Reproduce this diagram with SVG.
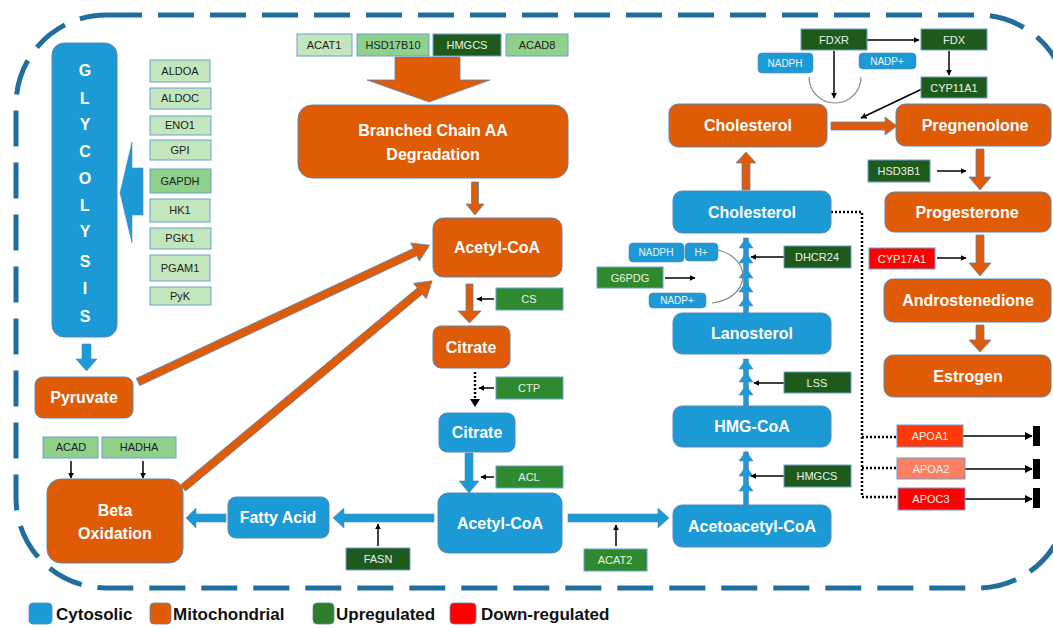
<svg xmlns="http://www.w3.org/2000/svg" width="1053" height="628" viewBox="0 0 1053 628">
<defs>
<style>
.or{fill:#df5b05;stroke:#5b86b8;stroke-width:1}
.bl{fill:#1b9ad6;stroke:#5b86b8;stroke-width:1}
.oa{fill:#df5b05;stroke:#5b86b8;stroke-width:0.8}
.ba{fill:#1b9ad6;stroke:#5b86b8;stroke-width:0.6}
.big{font-family:"Liberation Sans",Arial,sans-serif;font-weight:bold;font-size:16px;fill:#fff;text-anchor:middle}
.gl{font-family:"Liberation Sans",Arial,sans-serif;font-weight:bold;font-size:16px;fill:#fff;text-anchor:middle}
.g1{fill:#c3e6bc;stroke:#6a9fd0;stroke-width:1}
.g2{fill:#8fd08a;stroke:#6a9fd0;stroke-width:1}
.g3{fill:#2f8a2f;stroke:#6a9fd0;stroke-width:1}
.g4{fill:#1f5a1d;stroke:#6a9fd0;stroke-width:1}
.r1{fill:#ff3a0a;stroke:#6a9fd0;stroke-width:1}
.r2{fill:#ff8060;stroke:#6a9fd0;stroke-width:1}
.r3{fill:#ff0000;stroke:#6a9fd0;stroke-width:1}
.sm{fill:#1b9ad6;stroke:#5b86b8;stroke-width:0.6}
.td{font-family:"Liberation Sans",Arial,sans-serif;font-size:11px;fill:#222;text-anchor:middle}
.tw{font-family:"Liberation Sans",Arial,sans-serif;font-size:11px;fill:#e8f2e8;text-anchor:middle}
.ts{font-family:"Liberation Sans",Arial,sans-serif;font-size:10px;fill:#f0f6fb;text-anchor:middle}
.lg{font-family:"Liberation Sans",Arial,sans-serif;font-weight:bold;font-size:17px;fill:#111}
.ln{stroke:#000;stroke-width:1.5;fill:none}
.dot{stroke:#000;stroke-width:2.5;fill:none;stroke-dasharray:2 2}
.arc{stroke:#888;stroke-width:1.2;fill:none}
</style>
<marker id="ah" viewBox="0 0 10 10" refX="9" refY="5" markerWidth="6" markerHeight="6" markerUnits="userSpaceOnUse" orient="auto"><path d="M0,0 L10,5 L0,10 Z" fill="#000"/></marker>
<marker id="ah2" viewBox="0 0 10 10" refX="9" refY="5" markerWidth="8" markerHeight="8" markerUnits="userSpaceOnUse" orient="auto"><path d="M0,0 L10,5 L0,10 Z" fill="#000"/></marker>
</defs>

<rect x="0" y="0" width="1053" height="628" fill="#fff"/>

<!-- cell border -->
<rect x="16" y="15" width="1052" height="573" rx="90" ry="90" fill="none" stroke="#1f6e9e" stroke-width="5" stroke-dasharray="36 16"/>

<!-- connectors -->
<g id="connectors">
  <polygon class="ba" points="143,168 132,168 132,142 120,193 132,243 132,215 143,215"/>
  <polygon class="ba" points="82,344 91,344 91,359 97,359 86.5,371 76,359 82,359"/>
  <polygon class="oa" transform="translate(138,382) rotate(-25.13)" points="0,-4 306,-4 306,-10 322,0 306,10 306,4 0,4"/>
  <polygon class="oa" transform="translate(183,488) rotate(-39.74)" points="0,-4 308,-4 308,-10 324,0 308,10 308,4 0,4"/>
  <polygon class="oa" points="395,57 460,57 460,80 490,80 429,102 367,80 395,80"/>
  <polygon class="oa" points="471.5,182 478.5,182 478.5,204 484,204 475,215 466,204 471.5,204"/>
  <polygon class="oa" points="466,284 473,284 473,311 481,311 469.5,323 458,311 466,311"/>
  <line class="dot" x1="475" y1="372" x2="475" y2="400" stroke-width="2"/>
  <path d="M470,399 L480,399 L475,407 Z" fill="#000"/>
  <polygon class="ba" points="465,453 473,453 473,481 479,481 469,493 459,481 465,481"/>
  <polygon class="ba" points="434,514 344,514 344,508 333,518 344,528 344,522 434,522"/>
  <polygon class="ba" points="226,514 196,514 196,508 186,518 196,528 196,522 226,522"/>
  <polygon class="ba" points="568,514 658,514 658,508 669,518 658,528 658,522 568,522"/>

  <rect class="ba" x="743.5" y="452" width="5" height="53"/>
  <polygon class="ba" points="739,461 746,451 753,461"/>
  <polygon class="ba" points="739,476 746,466 753,476"/>
  <polygon class="ba" points="739,491 746,481 753,491"/>
  <rect class="ba" x="743.5" y="359" width="5" height="47"/>
  <polygon class="ba" points="739,369 746,359 753,369"/>
  <polygon class="ba" points="739,382 746,372 753,382"/>
  <polygon class="ba" points="739,395 746,385 753,395"/>
  <rect class="ba" x="743.5" y="238" width="5" height="75"/>
  <polygon class="ba" points="739,248 746,238 753,248"/>
  <polygon class="ba" points="739,263 746,253 753,263"/>
  <polygon class="ba" points="739,278 746,268 753,278"/>
  <polygon class="ba" points="739,292 746,282 753,292"/>
  <polygon class="ba" points="739,306 746,296 753,306"/>

  <polygon class="oa" points="742,190 750,190 750,163 756,163 746,152 736,163 742,163"/>
  <polygon class="oa" points="831,122 885,122 885,117 897,126 885,135 885,130 831,130"/>
  <polygon class="oa" points="976,149 984,149 984,177 991,177 980,190 969,177 976,177"/>
  <polygon class="oa" points="976,235 984,235 984,263 991,263 980,276 969,263 976,263"/>
  <polygon class="oa" points="976,325 984,325 984,340 991,340 980,352 969,340 976,340"/>

  <line class="ln" x1="71" y1="461" x2="71" y2="478" marker-end="url(#ah)"/>
  <line class="ln" x1="143" y1="461" x2="143" y2="478" marker-end="url(#ah)"/>
  <line class="ln" x1="494" y1="299" x2="477" y2="299" marker-end="url(#ah)"/>
  <line class="ln" x1="494" y1="388" x2="479" y2="388" marker-end="url(#ah)"/>
  <line class="ln" x1="494" y1="477" x2="481" y2="477" marker-end="url(#ah)"/>
  <line class="ln" x1="378" y1="546" x2="378" y2="524" marker-end="url(#ah)"/>
  <line class="ln" x1="616" y1="546" x2="616" y2="525" marker-end="url(#ah)"/>
  <line class="ln" x1="784" y1="476" x2="751" y2="476" marker-end="url(#ah)"/>
  <line class="ln" x1="784" y1="383" x2="754" y2="383" marker-end="url(#ah)"/>
  <line class="ln" x1="784" y1="257" x2="751" y2="257" marker-end="url(#ah)"/>
  <line class="ln" x1="665" y1="278" x2="695" y2="278" stroke-width="1" stroke="#444" marker-end="url(#ah)"/>
  <line class="ln" x1="937" y1="171" x2="966" y2="171" stroke-width="1" stroke="#444" marker-end="url(#ah)"/>
  <line class="ln" x1="937" y1="258" x2="966" y2="258" stroke-width="1" stroke="#444" marker-end="url(#ah)"/>
  <line class="ln" x1="867" y1="40" x2="919" y2="40" stroke-width="1" stroke="#444" marker-end="url(#ah)"/>
  <line class="ln" x1="949" y1="51" x2="949" y2="75" marker-end="url(#ah)"/>
  <line class="ln" x1="834" y1="51" x2="834" y2="98" marker-end="url(#ah)"/>
  <line class="ln" x1="922" y1="89" x2="861" y2="118" marker-end="url(#ah)"/>
  <path class="arc" d="M809,77 A26,26 0 0 0 861,77"/>
  <path class="arc" d="M718,250 C752,258 752,298 712,303"/>

  <polyline class="dot" points="831,212 862,212 862,497"/>
  <line class="dot" x1="862" y1="437" x2="897" y2="437"/>
  <line class="dot" x1="862" y1="468" x2="897" y2="468"/>
  <line class="dot" x1="862" y1="497" x2="898" y2="497"/>
  <line class="ln" x1="963" y1="436" x2="1032" y2="436" stroke-width="2" marker-end="url(#ah2)"/>
  <line class="ln" x1="965" y1="469" x2="1032" y2="469" stroke-width="2" marker-end="url(#ah2)"/>
  <line class="ln" x1="965" y1="499" x2="1032" y2="499" stroke-width="2" marker-end="url(#ah2)"/>
  <rect x="1033" y="426" width="7" height="20" fill="#000"/>
  <rect x="1033" y="459" width="7" height="20" fill="#000"/>
  <rect x="1033" y="488" width="7" height="20" fill="#000"/>
</g>

<g id="glycolysis">
  <rect class="bl" x="52" y="43" width="65" height="294" rx="12"/>
  <text class="gl" x="85" y="76">G</text>
  <text class="gl" x="85" y="104">L</text>
  <text class="gl" x="85" y="130">Y</text>
  <text class="gl" x="85" y="157">C</text>
  <text class="gl" x="85" y="184">O</text>
  <text class="gl" x="85" y="211">L</text>
  <text class="gl" x="85" y="237">Y</text>
  <text class="gl" x="85" y="267">S</text>
  <text class="gl" x="85" y="294">I</text>
  <text class="gl" x="85" y="322">S</text>
</g>
<g id="pyruvate"><rect class="or" x="35" y="377" width="98" height="41" rx="8"/><text class="big" x="84" y="403">Pyruvate</text></g>
<g id="beta-oxidation"><rect class="or" x="47" y="479" width="136" height="84" rx="14"/><text class="big" x="115" y="516">Beta</text><text class="big" x="115" y="539">Oxidation</text></g>
<g id="branched-chain"><rect class="or" x="298" y="105" width="270" height="73" rx="14"/><text class="big" x="433" y="136">Branched Chain AA</text><text class="big" x="433" y="160">Degradation</text></g>
<g id="acetyl-coa-mito"><rect class="or" x="433" y="218" width="129" height="59" rx="10"/><text class="big" x="497" y="253">Acetyl-CoA</text></g>
<g id="citrate-mito"><rect class="or" x="433" y="326" width="77" height="42" rx="8"/><text class="big" x="471" y="353">Citrate</text></g>
<g id="citrate-cyto"><rect class="bl" x="439" y="413" width="76" height="39" rx="8"/><text class="big" x="477" y="438">Citrate</text></g>
<g id="acetyl-coa-cyto"><rect class="bl" x="438" y="493" width="124" height="60" rx="10"/><text class="big" x="500" y="529">Acetyl-CoA</text></g>
<g id="fatty-acid"><rect class="bl" x="228" y="497" width="101" height="41" rx="8"/><text class="big" x="278" y="523">Fatty Acid</text></g>
<g id="acetoacetyl-coa"><rect class="bl" x="673" y="505" width="158" height="42" rx="9"/><text class="big" x="752" y="532">Acetoacetyl-CoA</text></g>
<g id="hmg-coa"><rect class="bl" x="673" y="406" width="158" height="41" rx="9"/><text class="big" x="752" y="432">HMG-CoA</text></g>
<g id="lanosterol"><rect class="bl" x="673" y="313" width="158" height="41" rx="9"/><text class="big" x="752" y="339">Lanosterol</text></g>
<g id="cholesterol-cyto"><rect class="bl" x="673" y="191" width="158" height="42" rx="9"/><text class="big" x="752" y="218">Cholesterol</text></g>
<g id="cholesterol-mito"><rect class="or" x="669" y="104" width="158" height="43" rx="9"/><text class="big" x="748" y="131">Cholesterol</text></g>
<g id="pregnenolone"><rect class="or" x="896" y="104" width="155" height="42" rx="9"/><text class="big" x="975" y="131">Pregnenolone</text></g>
<g id="progesterone"><rect class="or" x="885" y="192" width="166" height="40" rx="9"/><text class="big" x="967" y="218">Progesterone</text></g>
<g id="androstenedione"><rect class="or" x="884" y="279" width="167" height="43" rx="9"/><text class="big" x="968" y="306">Androstenedione</text></g>
<g id="estrogen"><rect class="or" x="884" y="355" width="167" height="42" rx="9"/><text class="big" x="968" y="382">Estrogen</text></g>

<g id="ALDOA"><rect class="g1" x="150" y="60" width="60" height="22"/><text class="td" x="180" y="75">ALDOA</text></g>
<g id="ALDOC"><rect class="g1" x="150" y="88" width="61" height="21"/><text class="td" x="180" y="102">ALDOC</text></g>
<g id="ENO1"><rect class="g1" x="150" y="116" width="61" height="19"/><text class="td" x="180" y="129">ENO1</text></g>
<g id="GPI"><rect class="g1" x="150" y="140" width="61" height="20"/><text class="td" x="180" y="154">GPI</text></g>
<g id="GAPDH"><rect class="g2" x="150" y="169" width="61" height="24"/><text class="td" x="180" y="185">GAPDH</text></g>
<g id="HK1"><rect class="g1" x="150" y="199" width="60" height="23"/><text class="td" x="180" y="214">HK1</text></g>
<g id="PGK1"><rect class="g1" x="150" y="228" width="61" height="21"/><text class="td" x="180" y="242">PGK1</text></g>
<g id="PGAM1"><rect class="g1" x="150" y="255" width="60" height="26"/><text class="td" x="180" y="272">PGAM1</text></g>
<g id="PyK"><rect class="g1" x="150" y="287" width="61" height="18"/><text class="td" x="180" y="300">PyK</text></g>

<g id="ACAD"><rect class="g2" x="43" y="437" width="55" height="21"/><text class="td" x="71" y="451">ACAD</text></g>
<g id="HADHA"><rect class="g2" x="102" y="437" width="74" height="21"/><text class="td" x="139" y="451">HADHA</text></g>

<g id="ACAT1"><rect class="g1" x="297" y="34" width="55" height="22"/><text class="td" x="324" y="49">ACAT1</text></g>
<g id="HSD17B10"><rect class="g2" x="357" y="34" width="72" height="22"/><text class="td" x="393" y="49">HSD17B10</text></g>
<g id="HMGCS-top"><rect class="g4" x="433" y="34" width="68" height="22"/><text class="tw" x="467" y="49">HMGCS</text></g>
<g id="ACAD8"><rect class="g2" x="506" y="34" width="62" height="22"/><text class="td" x="537" y="49">ACAD8</text></g>

<g id="CS"><rect class="g3" x="496" y="288" width="67" height="22"/><text class="tw" x="529" y="303">CS</text></g>
<g id="CTP"><rect class="g3" x="496" y="377" width="67" height="22"/><text class="tw" x="529" y="392">CTP</text></g>
<g id="ACL"><rect class="g3" x="496" y="466" width="67" height="22"/><text class="tw" x="529" y="481">ACL</text></g>
<g id="FASN"><rect class="g4" x="346" y="548" width="64" height="22"/><text class="tw" x="378" y="563">FASN</text></g>
<g id="ACAT2"><rect class="g3" x="584" y="549" width="63" height="22"/><text class="tw" x="615" y="564">ACAT2</text></g>
<g id="HMGCS"><rect class="g4" x="784" y="465" width="67" height="22"/><text class="tw" x="817" y="480">HMGCS</text></g>
<g id="LSS"><rect class="g4" x="784" y="372" width="67" height="21"/><text class="tw" x="817" y="387">LSS</text></g>
<g id="DHCR24"><rect class="g4" x="784" y="246" width="67" height="22"/><text class="tw" x="817" y="261">DHCR24</text></g>
<g id="G6PDG"><rect class="g3" x="597" y="267" width="66" height="21"/><text class="tw" x="630" y="282">G6PDG</text></g>
<g id="NADPH-2"><rect class="sm" x="629" y="243" width="55" height="19" rx="4"/><text class="ts" x="656" y="256">NADPH</text></g>
<g id="H-plus"><rect class="sm" x="685" y="243" width="33" height="18" rx="4"/><text class="ts" x="701" y="256">H+</text></g>
<g id="NADP-plus-2"><rect class="sm" x="649" y="293" width="57" height="15" rx="4"/><text class="ts" x="677" y="304">NADP+</text></g>

<g id="FDXR"><rect class="g4" x="801" y="29" width="66" height="21"/><text class="tw" x="834" y="44">FDXR</text></g>
<g id="FDX"><rect class="g4" x="921" y="29" width="66" height="21"/><text class="tw" x="954" y="44">FDX</text></g>
<g id="CYP11A1"><rect class="g4" x="921" y="77" width="66" height="21"/><text class="tw" x="954" y="92">CYP11A1</text></g>
<g id="NADPH-1"><rect class="sm" x="758" y="53" width="55" height="20" rx="4"/><text class="ts" x="785" y="67">NADPH</text></g>
<g id="NADP-plus-1"><rect class="sm" x="859" y="53" width="57" height="16" rx="4"/><text class="ts" x="887" y="65">NADP+</text></g>
<g id="HSD3B1"><rect class="g4" x="868" y="160" width="62" height="22"/><text class="tw" x="899" y="175">HSD3B1</text></g>
<g id="CYP17A1"><rect class="r3" x="869" y="248" width="66" height="21"/><text class="tw" x="902" y="263" fill="#ffe0e0">CYP17A1</text></g>

<g id="APOA1"><rect class="r1" x="897" y="425" width="66" height="22"/><text class="tw" x="930" y="440">APOA1</text></g>
<g id="APOA2"><rect class="r2" x="897" y="458" width="68" height="21"/><text class="tw" x="931" y="473">APOA2</text></g>
<g id="APOC3"><rect class="r3" x="898" y="488" width="67" height="22"/><text class="tw" x="931" y="503">APOC3</text></g>

<g id="legend">
  <rect x="29" y="603" width="23" height="21" rx="4" fill="#1b9ad6" stroke="#5b86b8" stroke-width="0.8"/>
  <text class="lg" x="56" y="620">Cytosolic</text>
  <rect x="150" y="603" width="21" height="21" rx="4" fill="#df5b05" stroke="#5b86b8" stroke-width="0.8"/>
  <text class="lg" x="173" y="620">Mitochondrial</text>
  <rect x="313" y="603" width="21" height="21" rx="4" fill="#2f7d2a" stroke="#5b86b8" stroke-width="0.8"/>
  <text class="lg" x="336" y="620">Upregulated</text>
  <rect x="450" y="603" width="26" height="21" rx="4" fill="#ff0000" stroke="#5b86b8" stroke-width="0.8"/>
  <text class="lg" x="481" y="620">Down-regulated</text>
</g>
</svg>
